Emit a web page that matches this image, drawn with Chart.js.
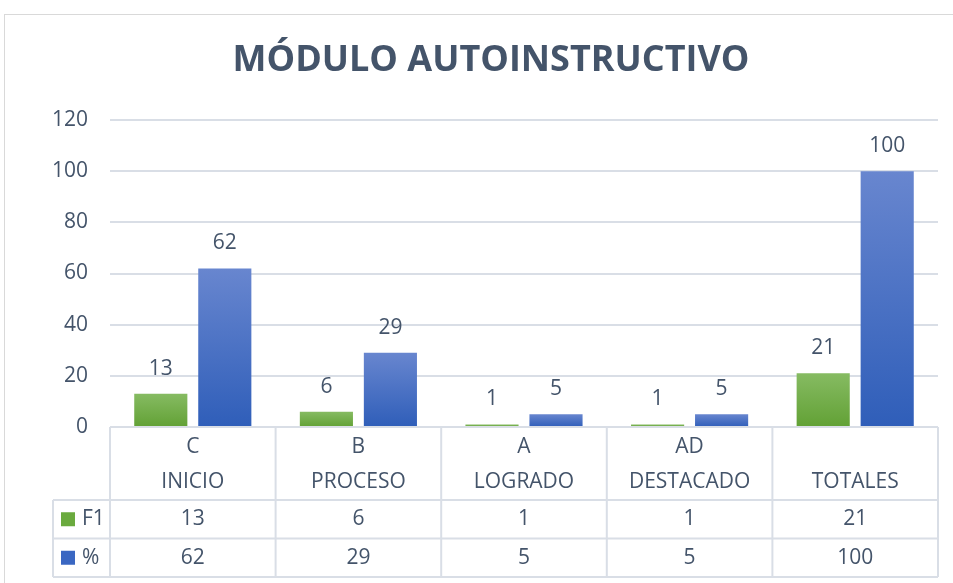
<!DOCTYPE html>
<html>
<head>
<meta charset="utf-8">
<script src="https://cdn.jsdelivr.net/npm/chart.js@4"></script>
<style>
  html, body { margin: 0; padding: 0; background: #fff; }
  #wrap { position: relative; width: 953px; height: 583px; overflow: hidden; }
  #frame { position: absolute; left: 4px; top: 14px; width: 1000px; height: 600px; border: 1px solid #d9d9d9; box-sizing: border-box; }
  canvas { position: absolute; left: 0; top: 0; }
</style>
</head>
<body>
<div id="wrap">
  <div id="frame"></div>
  <canvas id="chart" width="953" height="583"></canvas>
</div>
<script>
  // datos
  const codes = ['C', 'B', 'A', 'AD', ''];
  const levels = ['INICIO', 'PROCESO', 'LOGRADO', 'DESTACADO', 'TOTALES'];
  const f1Values = [13, 6, 1, 1, 21];
  const pctValues = [62, 29, 5, 5, 100];
  const seriesNames = ['F1', '%'];
  const yTicks = [0, 20, 40, 60, 80, 100, 120];

  const textColor = '#44546a';
  const lineColor = '#d9dee6';
  const font = '"Open Sans", sans-serif';

  function barGradient(top, bottom) {
    return (c) => {
      const chart = c.chart;
      const y = chart.scales && chart.scales.y;
      if (!chart.chartArea || !y || c.parsed == null) return bottom;
      const y0 = y.getPixelForValue(0);
      const y1 = y.getPixelForValue(c.parsed.y);
      const g = chart.ctx.createLinearGradient(0, y1, 0, y0);
      g.addColorStop(0, top);
      g.addColorStop(1, bottom);
      return g;
    };
  }

  // titulo, etiquetas y tabla de datos
  const extras = {
    id: 'extras',
    afterDatasetsDraw(chart) {
      const ctx = chart.ctx;
      const area = chart.chartArea;
      const xs = chart.scales.x;
      ctx.save();

      // titulo
      ctx.fillStyle = textColor;
      ctx.font = `bold 36px ${font}`;
      ctx.textAlign = 'center';
      ctx.textBaseline = 'middle';
      ctx.fillText('MÓDULO AUTOINSTRUCTIVO', 491, 61);

      // etiquetas de datos
      ctx.font = `21px ${font}`;
      chart.data.datasets.forEach((ds, di) => {
        chart.getDatasetMeta(di).data.forEach((bar, i) => {
          ctx.fillText(String(ds.data[i]), bar.x, bar.y - 25);
        });
      });

      // tabla
      const n = codes.length;
      const colW = (area.right - area.left) / n;
      const top = area.bottom;
      const headBottom = 500;
      const rowH = 38.5;
      const tableLeft = 53;
      const bottom = headBottom + rowH * 2;

      ctx.strokeStyle = lineColor;
      ctx.lineWidth = 2;
      ctx.beginPath();
      ctx.moveTo(area.left, top); ctx.lineTo(area.right, top);
      for (let r = 0; r <= 2; r++) {
        const y = headBottom + r * rowH;
        ctx.moveTo(tableLeft, y); ctx.lineTo(area.right, y);
      }
      ctx.moveTo(tableLeft, headBottom); ctx.lineTo(tableLeft, bottom);
      for (let i = 0; i <= n; i++) {
        const x = area.left + i * colW;
        ctx.moveTo(x, top); ctx.lineTo(x, bottom);
      }
      ctx.stroke();

      ctx.font = `21px ${font}`;
      ctx.fillStyle = textColor;
      for (let i = 0; i < n; i++) {
        const cx = xs.getPixelForValue(i);
        if (codes[i]) ctx.fillText(codes[i], cx, 447);
        ctx.fillText(levels[i], cx, 482);
        ctx.fillText(String(f1Values[i]), cx, headBottom + rowH / 2);
        ctx.fillText(String(pctValues[i]), cx, headBottom + rowH * 1.5);
      }

      // leyenda en la tabla
      const swatch = ['#6aaa3e', '#3a67c2'];
      ctx.textAlign = 'left';
      seriesNames.forEach((name, r) => {
        const cy = headBottom + rowH * (r + 0.5);
        ctx.fillStyle = swatch[r];
        ctx.fillRect(61, cy - 7, 14, 14);
        ctx.fillStyle = textColor;
        ctx.fillText(name, 82, cy);
      });
      ctx.restore();
    }
  };

  new Chart(document.getElementById('chart'), {
    type: 'bar',
    data: {
      labels: levels,
      datasets: [
        { label: seriesNames[0], data: f1Values, backgroundColor: barGradient('#86bb62', '#62a135') },
        { label: seriesNames[1], data: pctValues, backgroundColor: barGradient('#6886cf', '#2f5eb9') }
      ]
    },
    options: {
      responsive: false,
      animation: false,
      events: [],
      layout: { padding: { left: 0, right: 15, top: 120, bottom: 156 } },
      datasets: { bar: { categoryPercentage: 0.773, barPercentage: 0.83 } },
      plugins: { legend: { display: false }, title: { display: false }, tooltip: { enabled: false } },
      scales: {
        x: { display: false },
        y: {
          min: 0, max: 120,
          afterFit: (s) => { s.width = 110; },
          afterBuildTicks: (s) => { s.ticks = yTicks.map((v) => ({ value: v })); },
          border: { display: false },
          grid: { color: lineColor, lineWidth: 2, drawTicks: false },
          ticks: { padding: 22, color: textColor, font: { family: font, size: 21 } }
        }
      }
    },
    plugins: [extras]
  });
</script>
</body>
</html>
